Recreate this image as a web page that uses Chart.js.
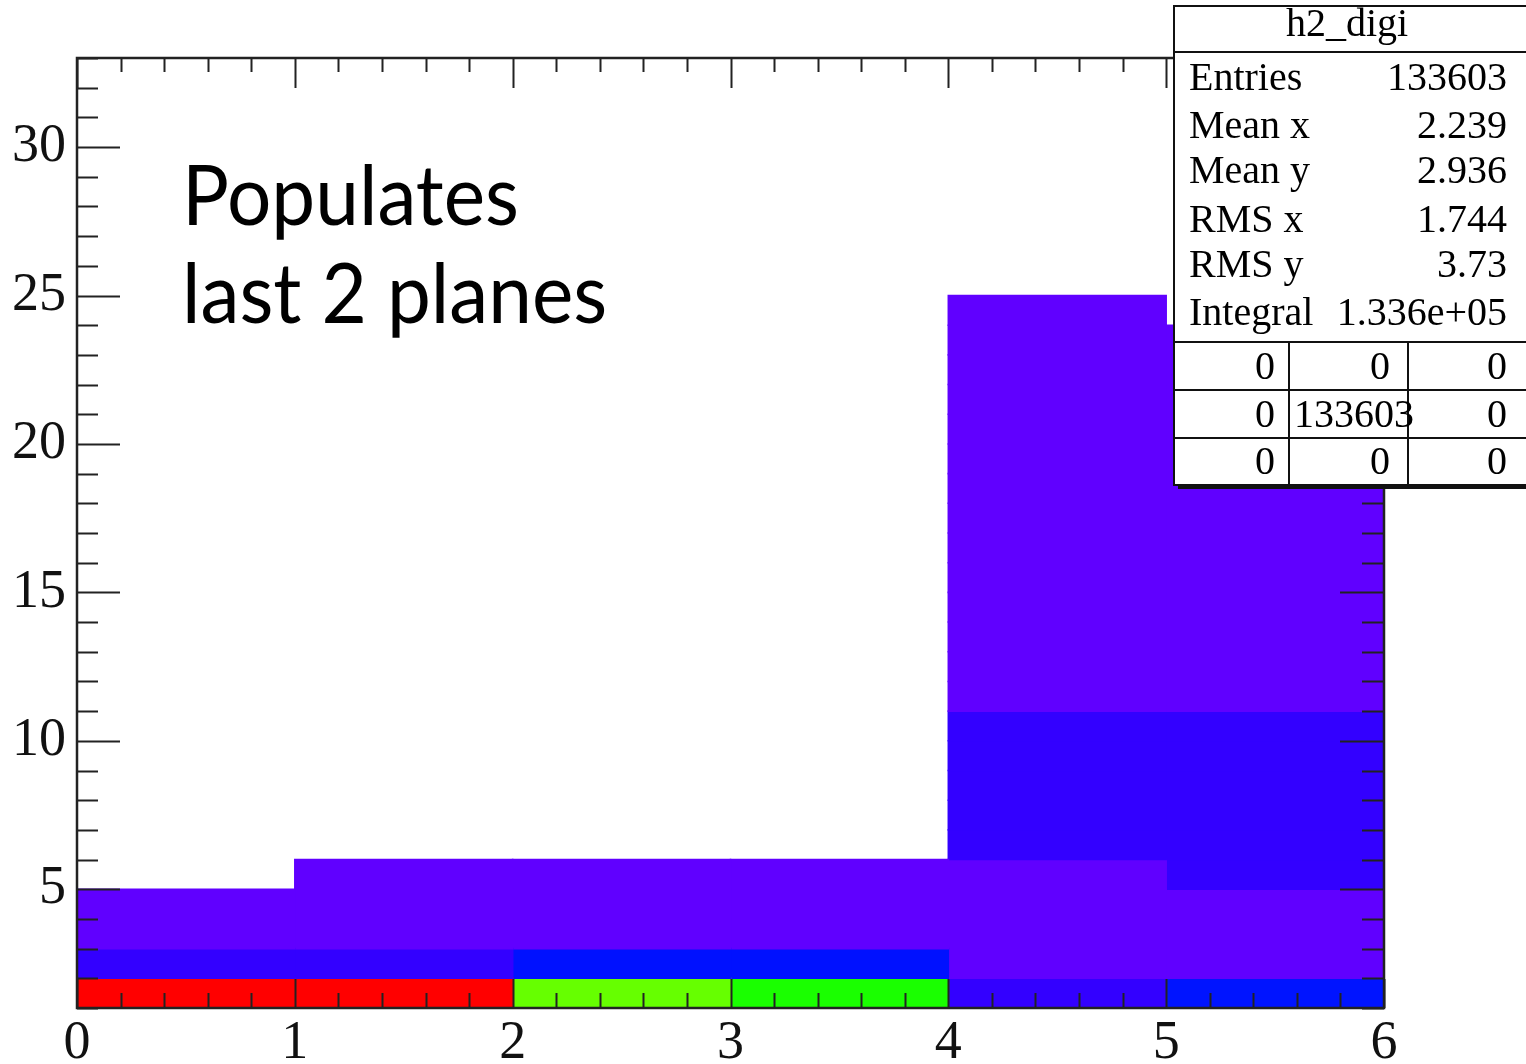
<!DOCTYPE html>
<html>
<head>
<meta charset="utf-8">
<script src="https://cdn.jsdelivr.net/npm/chart.js@4.4.0/dist/chart.umd.min.js"></script>
<style>
html, body { margin: 0; padding: 0; background: #fff; overflow: hidden; }
</style>
</head>
<body>
<canvas id="c" width="1526" height="1064"></canvas>
<script>
// 2D histogram h2_digi: x bins 0..6 (width 1), y bins start at 1 (width 1)
const xCenters = [0.5, 1.5, 2.5, 3.5, 4.5, 5.5];
const yStart = 1;
// counts per y bin, bottom up, one array per x bin
const col0 = [23300, 1550, 640, 640];
const col1 = [23300, 1550, 640, 640, 640];
const col2 = [15020, 2930, 640, 640, 640];
const col3 = [13470, 2930, 640, 640, 640];
const col4 = [1550, 640, 640, 640, 640, 1550, 1550, 1550, 1550, 1550,
              640, 640, 640, 640, 640, 640, 640, 640, 640, 640, 640, 640, 640, 640];
const col5 = [3000, 640, 640, 640, 1550, 1550, 1550, 1550, 1550, 1550,
              640, 640, 640, 640, 640, 640, 640, 640, 640, 640, 640, 640, 640];
const zMax = 23300;

const xTicks = [0, 1, 2, 3, 4, 5, 6];
const yTicks = [5, 10, 15, 20, 25, 30];

const statNames = ['Entries', 'Mean x', 'Mean y', 'RMS x', 'RMS y', 'Integral'];
const statValues = ['133603', '2.239', '2.936', '1.744', '3.73', '1.336e+05'];
const overflowRows = [['0', '0', '0'], ['0', '133603', '0'], ['0', '0', '0']];

const noteLines = ['Populates', 'last 2 planes'];

// rainbow palette: violet (low) -> red (high)
function zColor(v) {
  const h = 270 * (1 - v / zMax);
  return 'hsl(' + h.toFixed(1) + ', 100%, 50%)';
}

const cols = [col0, col1, col2, col3, col4, col5];
const datasets = cols.map((counts, i) => ({
  data: counts.map((v, j) => ({ x: xCenters[i], y: [yStart + j, yStart + j + 1] })),
  backgroundColor: counts.map(zColor),
  borderWidth: 0,
  inflateAmount: 0.8,
  grouped: false,
  barPercentage: 1,
  categoryPercentage: 1
}));

const serif = 'Liberation Serif';

const rootFrame = {
  id: 'rootFrame',
  afterDatasetsDraw(chart) {
    const ctx = chart.ctx;
    const a = chart.chartArea;
    const xs = chart.scales.x, ys = chart.scales.y;
    ctx.save();
    ctx.strokeStyle = '#222';
    ctx.lineWidth = 2;
    ctx.beginPath();
    // x ticks, 5 divisions per unit
    for (let i = 0; i <= 30; i++) {
      const px = Math.round(xs.getPixelForValue(i / 5)) + 0.5;
      const major = i % 5 === 0;
      ctx.moveTo(px, a.bottom); ctx.lineTo(px, a.bottom - (major ? 29 : 15));
      ctx.moveTo(px, a.top); ctx.lineTo(px, a.top + (major ? 30 : 14));
    }
    // y ticks every unit
    for (let v = 1; v <= 33; v++) {
      const py = Math.round(ys.getPixelForValue(v)) + 0.5;
      const major = v % 5 === 0;
      ctx.moveTo(a.left, py); ctx.lineTo(a.left + (major ? 43 : 21), py);
      ctx.moveTo(a.right, py); ctx.lineTo(a.right - (major ? 44 : 22), py);
    }
    ctx.stroke();
    ctx.lineWidth = 2.5;
    ctx.strokeRect(a.left, a.top, a.right - a.left, a.bottom - a.top);
    ctx.restore();
  },
  afterDraw(chart) {
    const ctx = chart.ctx;
    ctx.save();
    // annotation
    ctx.fillStyle = '#000';
    ctx.font = '84px Lato';
    const sx = 337 / ctx.measureText(noteLines[0]).width;
    ctx.save();
    ctx.translate(182, 0);
    ctx.scale(sx, 1);
    ctx.textBaseline = 'alphabetic';
    ctx.fillText(noteLines[0], 0, 225);
    ctx.fillText(noteLines[1], 0, 323);
    ctx.restore();

    // stats box
    const L = 1173, T = 5, R = 1530, B = 485;
    ctx.fillStyle = '#111';
    ctx.fillRect(L + 5, B, R - L, 4);
    ctx.fillStyle = '#fff';
    ctx.fillRect(L, T, R - L, B - T);
    ctx.strokeStyle = '#111';
    ctx.lineWidth = 2;
    ctx.strokeRect(L + 1, T + 1, R - L, B - T - 1);
    ctx.beginPath();
    [52, 342, 390, 438].forEach(y => { ctx.moveTo(L, y); ctx.lineTo(R, y); });
    [1289, 1408].forEach(x => { ctx.moveTo(x, 342); ctx.lineTo(x, B); });
    ctx.stroke();

    ctx.fillStyle = '#000';
    ctx.textBaseline = 'alphabetic';
    ctx.font = '40px "' + serif + '"';
    ctx.textAlign = 'center';
    ctx.fillText('h2_digi', 1347, 36);
    ctx.font = '40px "' + serif + '"';
    const base = [90, 138, 183, 232, 277, 325];
    statNames.forEach((n, i) => {
      ctx.textAlign = 'left';
      ctx.fillText(n, 1189, base[i]);
      ctx.textAlign = 'right';
      ctx.fillText(statValues[i], 1507, base[i]);
    });
    const rowBase = [379, 427, 474];
    const colRight = [1275, 1390, 1507];
    overflowRows.forEach((row, r) => {
      row.forEach((t, c) => {
        if (t.length > 1) {
          ctx.textAlign = 'left';
          ctx.fillText(t, 1294, rowBase[r]);
        } else {
          ctx.textAlign = 'right';
          ctx.fillText(t, colRight[c], rowBase[r]);
        }
      });
    });
    ctx.restore();
  }
};

new Chart(document.getElementById('c'), {
  type: 'bar',
  data: { datasets: datasets },
  options: {
    responsive: false,
    animation: false,
    devicePixelRatio: 1,
    layout: { padding: { top: 58, right: 142, left: 0, bottom: 0 } },
    plugins: { legend: { display: false }, tooltip: { enabled: false } },
    scales: {
      x: {
        type: 'linear', min: 0, max: 6, offset: false,
        grid: { display: false }, border: { display: false },
        ticks: { font: { family: serif, size: 54 }, color: '#111', padding: -5, maxRotation: 0, autoSkip: false },
        afterBuildTicks: s => { s.ticks = xTicks.map(v => ({ value: v })); },
        afterFit: s => { s.height = 56; }
      },
      y: {
        type: 'linear', min: 1, max: 33,
        grid: { display: false }, border: { display: false },
        ticks: { font: { family: serif, size: 54 }, color: '#111', padding: 3, autoSkip: false },
        afterBuildTicks: s => { s.ticks = yTicks.map(v => ({ value: v })); },
        afterFit: s => { s.width = 77; }
      }
    }
  },
  plugins: [rootFrame]
});
</script>
</body>
</html>
